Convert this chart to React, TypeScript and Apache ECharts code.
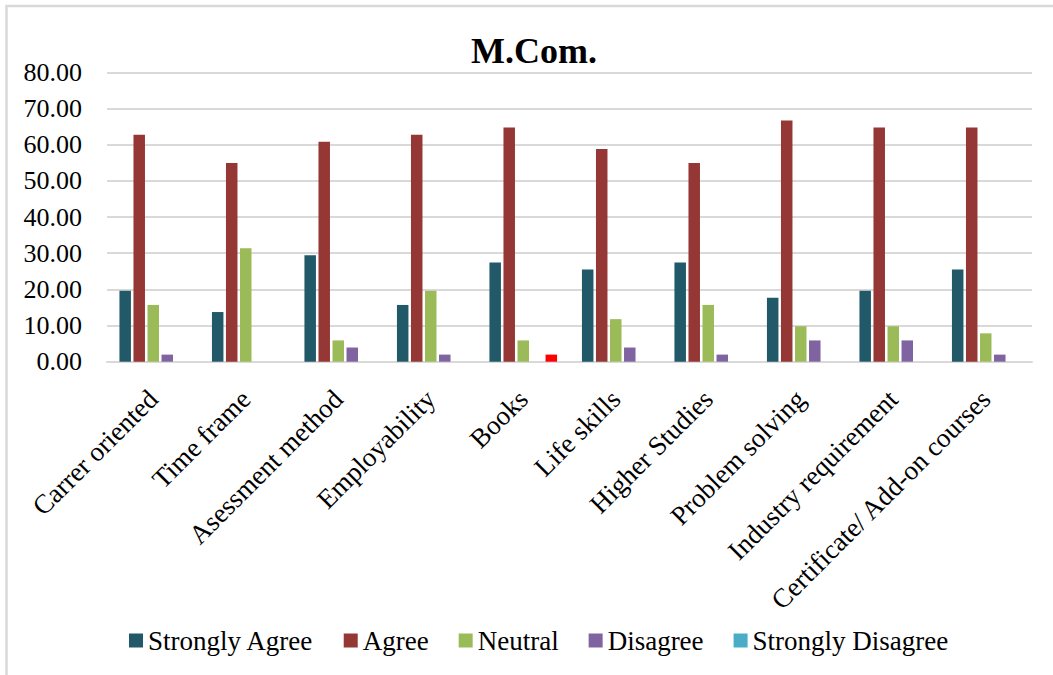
import React, { useEffect, useRef } from "react";
import * as echarts from "echarts";

const title = "M.Com.";
const categories = [
  "Carrer oriented",
  "Time frame",
  "Asessment method",
  "Employability",
  "Books",
  "Life skills",
  "Higher Studies",
  "Problem solving",
  "Industry requirement",
  "Certificate/ Add-on courses",
];
const seriesNames = ["Strongly Agree", "Agree", "Neutral", "Disagree", "Strongly Disagree"];
const seriesColors = ["#215968", "#953735", "#9BBB59", "#8064A2", "#4BACC6"];
const stronglyAgree = [19.61, 13.73, 29.41, 15.69, 27.45, 25.49, 27.45, 17.65, 19.61, 25.49];
const agree = [62.75, 54.9, 60.78, 62.75, 64.71, 58.82, 54.9, 66.67, 64.71, 64.71];
const neutral = [15.69, 31.37, 5.88, 19.61, 5.88, 11.76, 15.69, 9.8, 9.8, 7.84];
const disagree = [1.96, 0, 3.92, 1.96, 0, 3.92, 1.96, 5.88, 5.88, 1.96];
const stronglyDisagree = [0, 0, 0, 0, 1.96, 0, 0, 0, 0, 0];
const highlightIndex = 4; // Books "Strongly Disagree" bar drawn in red
const highlightColor = "#FF0000";

const FONT = '"Liberation Serif", "Times New Roman", serif';

export default function App() {
  const ref = useRef<HTMLDivElement>(null);
  useEffect(() => {
    if (!ref.current) return;
    const chart = echarts.init(ref.current, undefined, { renderer: "svg" });
    const allData = [stronglyAgree, agree, neutral, disagree, stronglyDisagree];
    const series = allData.map((arr, si) => ({
      name: seriesNames[si],
      type: "bar",
      barWidth: 11.5,
      barGap: "22%",
      itemStyle: { color: seriesColors[si] },
      data: arr.map((v, i) =>
        si === 4 && i === highlightIndex
          ? { value: v, itemStyle: { color: highlightColor } }
          : v
      ),
    }));
    chart.setOption({
      animation: false,
      backgroundColor: "#ffffff",
      textStyle: { fontFamily: FONT, color: "#000" },
      title: {
        text: title,
        left: 466,
        top: 28,
        textStyle: { fontFamily: FONT, fontSize: 36, fontWeight: "bold", color: "#000" },
      },
      graphic: [
        {
          type: "rect",
          shape: { x: 6.5, y: 6, width: 1100, height: 700 },
          style: { fill: "none", stroke: "#d9d9d9", lineWidth: 2.5 },
          silent: true,
        },
      ],
      legend: {
        data: seriesNames,
        top: 622,
        left: 124,
        icon: "rect",
        itemWidth: 14,
        itemHeight: 14,
        itemGap: 30,
        textStyle: { fontFamily: FONT, fontSize: 27, color: "#000" },
      },
      grid: { left: 107, right: 21, top: 72.3, bottom: 313.3, containLabel: false },
      xAxis: {
        type: "category",
        data: categories,
        axisLine: { lineStyle: { color: "#d9d9d9", width: 2 } },
        axisTick: { show: false },
        axisLabel: {
          rotate: 45,
          interval: 0,
          margin: 33,
          fontFamily: FONT,
          fontSize: 27,
          color: "#000",
        },
      },
      yAxis: {
        type: "value",
        min: 0,
        max: 80,
        interval: 10,
        axisLine: { show: false },
        axisTick: { show: false },
        splitLine: { lineStyle: { color: "#d9d9d9", width: 2 } },
        axisLabel: {
          formatter: (v: number) => v.toFixed(2),
          margin: 25,
          fontFamily: FONT,
          fontSize: 26,
          color: "#000",
        },
      },
      series,
    });
    return () => chart.dispose();
  }, []);
  return (
    <div
      ref={ref}
      style={{ position: "fixed", left: 0, top: 0, width: 1053, height: 675, background: "#fff" }}
    />
  );
}
